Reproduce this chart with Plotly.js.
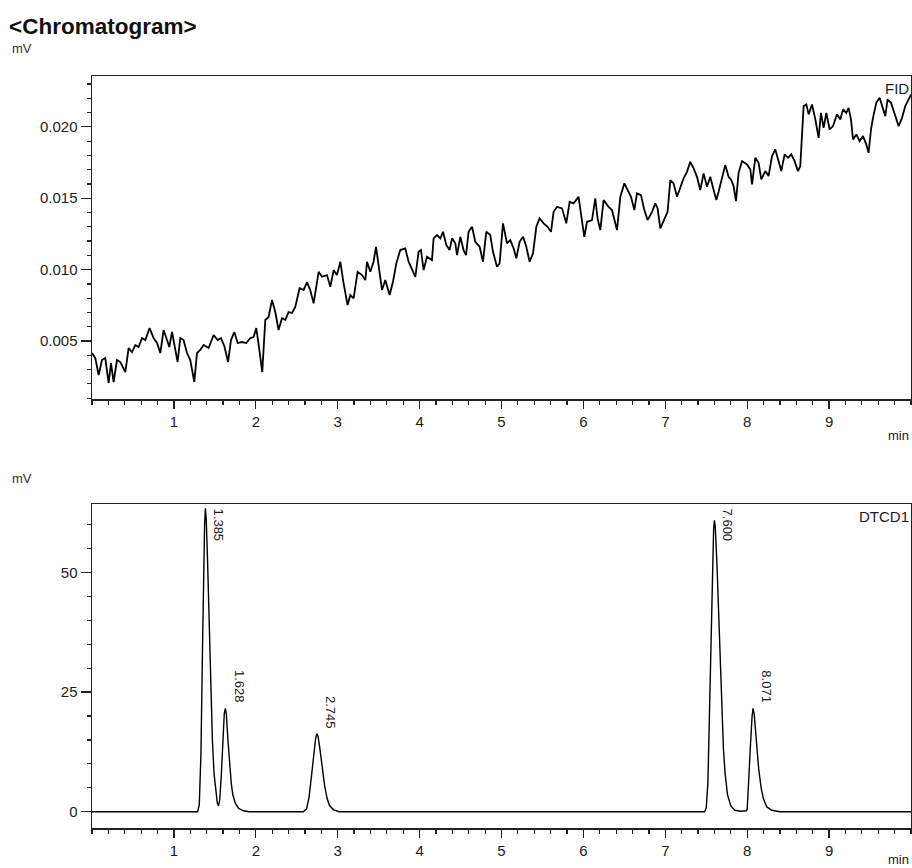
<!DOCTYPE html>
<html>
<head>
<meta charset="utf-8">
<script src="https://cdn.plot.ly/plotly-3.0.1.min.js"></script>
<style>html,body{margin:0;padding:0;background:#fff;}#chart{width:912px;height:868px;}</style>
</head>
<body>
<div id="chart"></div>
<script>
// ---- FID trace (top panel), time in min, signal in mV ----
const fidTime = [
0.000,0.040,0.081,0.122,0.162,0.203,0.232,0.264,0.305,0.346,0.407,0.447,0.488,0.529,0.569,0.611,0.651,0.703,0.752,0.794,
0.834,0.874,0.916,0.944,0.977,1.017,1.045,1.078,1.118,1.160,1.200,1.249,1.282,1.322,1.363,1.424,1.485,1.534,1.575,1.619,
1.661,1.697,1.738,1.778,1.832,1.884,1.933,1.973,2.006,2.039,2.079,2.116,2.156,2.198,2.238,2.278,2.320,2.360,2.400,2.442,
2.482,2.535,2.584,2.625,2.665,2.706,2.767,2.808,2.869,2.910,2.950,2.991,3.032,3.072,3.121,3.154,3.194,3.243,3.297,3.337,
3.358,3.398,3.438,3.468,3.499,3.541,3.581,3.634,3.675,3.716,3.764,3.825,3.866,3.907,3.948,3.988,4.017,4.049,4.090,4.151,
4.171,4.212,4.253,4.286,4.326,4.366,4.396,4.436,4.457,4.497,4.537,4.567,4.598,4.640,4.680,4.733,4.774,4.814,4.863,4.896,
4.945,4.977,5.018,5.067,5.107,5.148,5.181,5.221,5.263,5.303,5.343,5.385,5.425,5.465,5.514,5.563,5.604,5.636,5.678,5.739,
5.791,5.832,5.881,5.941,5.971,6.011,6.044,6.105,6.145,6.173,6.206,6.247,6.308,6.349,6.410,6.451,6.500,6.540,6.581,6.622,
6.654,6.703,6.744,6.784,6.838,6.878,6.906,6.939,6.988,7.028,7.061,7.101,7.143,7.183,7.223,7.265,7.305,7.346,7.387,7.427,
7.468,7.509,7.549,7.590,7.623,7.651,7.692,7.732,7.773,7.802,7.834,7.863,7.895,7.937,7.998,8.038,8.059,8.099,8.139,8.172,
8.221,8.261,8.303,8.343,8.383,8.416,8.457,8.498,8.538,8.579,8.620,8.648,8.689,8.722,8.750,8.791,8.832,8.872,8.901,8.933,
8.966,9.006,9.048,9.096,9.137,9.170,9.210,9.238,9.267,9.292,9.332,9.373,9.414,9.454,9.482,9.512,9.536,9.576,9.617,9.658,
9.686,9.714,9.756,9.796,9.849,9.890,9.930,9.971,10.003
];
const fidSignal = [
0.00416,0.00381,0.00262,0.00367,0.00381,0.00206,0.00346,0.00213,0.00367,0.00353,0.00283,0.00451,0.00423,0.00472,0.00458,0.00521,0.00507,0.00591,0.00521,0.00486,
0.00416,0.00577,0.00507,0.00458,0.00563,0.00437,0.00353,0.00521,0.00507,0.00416,0.00367,0.00213,0.00416,0.00437,0.00472,0.00451,0.00542,0.00507,0.00521,0.00458,
0.00353,0.00507,0.00563,0.00486,0.00493,0.00486,0.00521,0.00528,0.00591,0.00458,0.00283,0.00647,0.00668,0.00787,0.00703,0.00577,0.00661,0.00647,0.00703,0.00696,
0.00738,0.00871,0.00857,0.00913,0.00857,0.00764,0.00985,0.00950,0.00962,0.00880,0.00997,0.00962,0.01055,0.00904,0.00752,0.00822,0.00799,0.00985,0.00962,0.00927,
0.01055,0.00985,0.01055,0.01160,0.01044,0.00857,0.00927,0.00822,0.00915,0.01044,0.01137,0.01149,0.01055,0.00997,0.00950,0.01125,0.01137,0.00997,0.01090,0.01067,
0.01219,0.01242,0.01219,0.01265,0.01172,0.01137,0.01219,0.01184,0.01102,0.01230,0.01137,0.01102,0.01265,0.01300,0.01195,0.01160,0.01055,0.01265,0.01242,0.01125,
0.01020,0.01044,0.01324,0.01184,0.01207,0.01149,0.01079,0.01195,0.01230,0.01160,0.01055,0.01114,0.01300,0.01359,0.01324,0.01300,0.01265,0.01405,0.01440,0.01429,
0.01324,0.01475,0.01464,0.01510,0.01394,0.01230,0.01335,0.01347,0.01499,0.01359,0.01277,0.01487,0.01440,0.01417,0.01277,0.01510,0.01604,0.01557,0.01510,0.01417,
0.01534,0.01522,0.01417,0.01347,0.01405,0.01464,0.01429,0.01289,0.01347,0.01405,0.01627,0.01604,0.01510,0.01580,0.01639,0.01685,0.01755,0.01709,0.01650,0.01557,
0.01674,0.01580,0.01650,0.01557,0.01487,0.01545,0.01639,0.01732,0.01650,0.01632,0.01585,0.01480,0.01678,0.01760,0.01737,0.01702,0.01597,0.01783,0.01748,0.01632,
0.01690,0.01655,0.01795,0.01842,0.01760,0.01690,0.01807,0.01783,0.01807,0.01760,0.01690,0.01725,0.02145,0.02157,0.02087,0.02157,0.02052,0.01923,0.02098,0.01993,
0.02098,0.01982,0.02005,0.02087,0.02052,0.02122,0.02098,0.02133,0.02052,0.01912,0.01947,0.01900,0.01935,0.01877,0.01818,0.01982,0.02063,0.02168,0.02203,0.02133,
0.02075,0.02192,0.02168,0.02098,0.02005,0.02063,0.02145,0.02192,0.02227
];

// ---- DTCD1 trace (bottom panel) ----
const tcdTime = [
0.00,1.29,1.31,1.33,1.35,1.365,1.375,1.385,1.395,1.41,1.43,1.45,1.47,1.49,1.51,1.53,1.545,
1.56,1.58,1.60,1.615,1.628,1.64,1.66,1.68,1.70,1.72,1.75,1.79,1.85,1.92,
2.58,2.62,2.65,2.68,2.71,2.73,2.745,2.76,2.78,2.81,2.84,2.87,2.90,2.95,3.02,
7.48,7.50,7.52,7.54,7.56,7.58,7.59,7.60,7.61,7.63,7.65,7.67,7.69,7.71,7.73,7.76,7.80,7.85,7.92,7.99,
8.00,8.02,8.04,8.06,8.071,8.085,8.10,8.12,8.14,8.17,8.20,8.24,8.30,8.40,10.0
];
const tcdSignal = [
0,0,1.5,12,35,52,60,63.4,61,53,39,26,15,8,4,1.8,1.2,
2.5,8,16,20.5,21.6,20.5,15,10,6,3.5,1.8,0.7,0.2,0,
0,0.6,3,7.5,12.5,15.3,16.3,15.8,13.5,9.5,5.5,2.8,1.3,0.4,0,
0,0.8,6,20,38,54,59,60.9,59.5,52,41,30,20,13,8,3.5,1.2,0.3,0.1,0.2,
0.5,6,14,20,21.6,20.5,17,13,9,5,2.6,1.0,0.3,0,0
];

// ---- peak annotations ----
const peakTimes   = [1.385, 1.628, 2.745, 7.600, 8.071];
const peakHeights = [63.4, 21.6, 16.3, 60.9, 21.6];
const peakLabels  = ['1.385', '1.628', '2.745', '7.600', '8.071'];

const fidTickVals = [0.005, 0.010, 0.015, 0.020];
const tcdTickVals = [0, 25, 50];
const timeTickVals = [1, 2, 3, 4, 5, 6, 7, 8, 9];

// ---- layout geometry ----
const W = 912, H = 868;
const M = {l: 92, r: 1, t: 76, b: 40};
const plotH = H - M.t - M.b;
const py = p => (H - M.b - p) / plotH;   // pixel row -> paper fraction
const px = p => (p - M.l) / (W - M.l - M.r);

const TXT = '#1c1c1c';
const FONT = 'Liberation Sans, Arial, sans-serif';
const tcdRange = [-3.4, 64.3];

const axisCommon = {
  showline: true, linecolor: '#222', linewidth: 1.5, mirror: true,
  showgrid: false, zeroline: false,
  ticks: 'outside', tickcolor: '#222', tickwidth: 1.3,
  tickfont: {family: FONT, size: 15, color: TXT}
};

const traces = [
  {x: fidTime, y: fidSignal, type: 'scatter', mode: 'lines', line: {color: '#000', width: 1.8}, xaxis: 'x', yaxis: 'y', hoverinfo: 'skip'},
  {x: tcdTime, y: tcdSignal, type: 'scatter', mode: 'lines', line: {color: '#000', width: 1.4}, xaxis: 'x2', yaxis: 'y2', hoverinfo: 'skip'}
];

const annotations = [];
peakTimes.forEach((t, i) => {
  const room = (tcdRange[1] - peakHeights[i]) * (324 / (tcdRange[1] - tcdRange[0]));
  if (room < 40) {
    annotations.push({x: t, y: 1, xref: 'x2', yref: 'y2 domain', text: peakLabels[i], textangle: 90,
      showarrow: false, xanchor: 'left', yanchor: 'top', xshift: 4, yshift: -3,
      font: {family: FONT, size: 13, color: TXT}});
  } else {
    annotations.push({x: t, y: peakHeights[i], xref: 'x2', yref: 'y2', text: peakLabels[i], textangle: 90,
      showarrow: false, xanchor: 'left', yanchor: 'bottom', xshift: 4, yshift: 3,
      font: {family: FONT, size: 13, color: TXT}});
  }
});
annotations.push(
  {xref: 'paper', yref: 'paper', x: px(10), y: py(48), text: 'mV', showarrow: false, xanchor: 'left', yanchor: 'middle', font: {family: FONT, size: 13, color: '#333'}},
  {xref: 'paper', yref: 'paper', x: px(10), y: py(479), text: 'mV', showarrow: false, xanchor: 'left', yanchor: 'middle', font: {family: FONT, size: 13, color: '#333'}},
  {xref: 'paper', yref: 'paper', x: 1, y: py(435), text: 'min', showarrow: false, xanchor: 'right', yanchor: 'middle', font: {family: FONT, size: 13, color: TXT}},
  {xref: 'paper', yref: 'paper', x: 1, y: py(859), text: 'min', showarrow: false, xanchor: 'right', yanchor: 'middle', font: {family: FONT, size: 13, color: TXT}},
  {xref: 'paper', yref: 'paper', x: 1, y: py(78), text: 'FID', showarrow: false, xanchor: 'right', yanchor: 'top', font: {family: FONT, size: 15, color: TXT}},
  {xref: 'paper', yref: 'paper', x: 1, y: py(506), text: 'DTCD1', showarrow: false, xanchor: 'right', yanchor: 'top', font: {family: FONT, size: 15, color: TXT}}
);

const layout = {
  width: W, height: H,
  margin: M,
  paper_bgcolor: '#fff', plot_bgcolor: '#fff',
  showlegend: false,
  title: {text: '<b>&lt;Chromatogram&gt;</b>', xref: 'container', yref: 'container',
          x: 9 / W, xanchor: 'left', y: 1 - 26 / H, yanchor: 'middle',
          font: {family: FONT, size: 22.5, color: '#111'}},
  xaxis: Object.assign({}, axisCommon, {domain: [0, 1], anchor: 'y', range: [0, 10.0],
    tickvals: timeTickVals, ticktext: timeTickVals.map(String), ticklen: 8,
    minor: {dtick: 0.2, tick0: 0, ticks: 'outside', ticklen: 4, tickcolor: '#222', tickwidth: 1.2}}),
  yaxis: Object.assign({}, axisCommon, {domain: [py(399), py(76)], anchor: 'x', range: [0.00094, 0.02356],
    tickvals: fidTickVals, tickformat: '.3f', ticklen: 10,
    minor: {dtick: 0.001, tick0: 0, ticks: 'outside', ticklen: 4, tickcolor: '#222', tickwidth: 1.2}}),
  xaxis2: Object.assign({}, axisCommon, {domain: [0, 1], anchor: 'y2', range: [0, 10.0],
    tickvals: timeTickVals, ticktext: timeTickVals.map(String), ticklen: 8,
    minor: {dtick: 0.2, tick0: 0, ticks: 'outside', ticklen: 4, tickcolor: '#222', tickwidth: 1.2}}),
  yaxis2: Object.assign({}, axisCommon, {domain: [py(828), py(504)], anchor: 'x2', range: tcdRange,
    tickvals: tcdTickVals, ticklen: 10,
    minor: {dtick: 5, tick0: 0, ticks: 'outside', ticklen: 4, tickcolor: '#222', tickwidth: 1.2}}),
  annotations: annotations
};

Plotly.newPlot('chart', traces, layout, {staticPlot: true, displayModeBar: false});
</script>
</body>
</html>
